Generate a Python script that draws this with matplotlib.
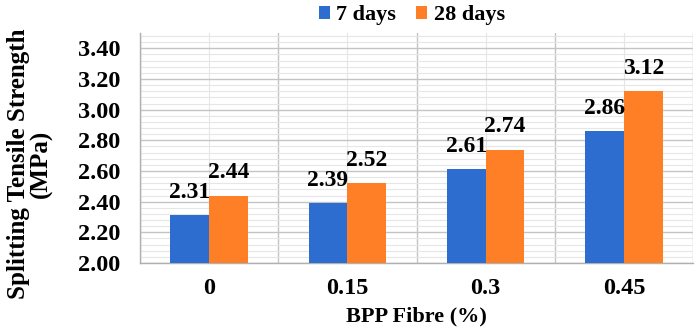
import matplotlib
matplotlib.use("Agg")
import matplotlib.pyplot as plt
import numpy as np
from matplotlib.ticker import MultipleLocator

categories = ["0", "0.15", "0.3", "0.45"]
days7 = [2.31, 2.39, 2.61, 2.86]
days28 = [2.44, 2.52, 2.74, 3.12]
series_names = ["7 days", "28 days"]
yticks = [2.00, 2.20, 2.40, 2.60, 2.80, 3.00, 3.20, 3.40]

blue = "#2E6DD0"
orange = "#FF7F27"

plt.rcParams['font.family'] = ['Liberation Serif', 'DejaVu Serif']
plt.rcParams['font.weight'] = 'bold'

fig = plt.figure(figsize=(6.99, 3.32), dpi=100)
ax = fig.add_axes([140/699, (332-263)/332, (693-140)/699, (263-33)/332])

x = np.arange(len(categories))
w = 0.28
b1 = ax.bar(x - w/2, days7, w, color=blue, label=series_names[0], zorder=3)
b2 = ax.bar(x + w/2, days28, w, color=orange, label=series_names[1], zorder=3)

ax.set_ylim(2.0, 3.5)
ax.set_xlim(-0.5, len(categories) - 0.5)
ax.set_yticks(yticks)
ax.set_yticklabels([f"{v:.2f}" for v in yticks], fontsize=17.5, fontweight='bold')
ax.set_xticks(x)
ax.set_xticklabels(categories, fontsize=17.5, fontweight='bold')
ax.yaxis.set_minor_locator(MultipleLocator(0.04))
ax.set_xticks(np.arange(-0.5, len(categories)), minor=True)
ax.tick_params(axis='both', which='both', length=0)
ax.tick_params(axis='y', pad=14)
ax.tick_params(axis='x', pad=11)

# gridlines
ax.grid(True, axis='y', which='major', color='#c4c4c4', lw=1.0, zorder=0)
ax.grid(True, axis='y', which='minor', color='#e6e6e6', lw=0.8, zorder=0)
ax.grid(True, axis='x', which='minor', color='#c4c4c4', lw=1.0, zorder=0)
ax.grid(True, axis='x', which='major', color='#e6e6e6', lw=0.8, zorder=0)

for s in ['top', 'right']:
    ax.spines[s].set_visible(False)
for s in ['left', 'bottom']:
    ax.spines[s].set_color('#b0b0b0')
    ax.spines[s].set_linewidth(1.0)

for bars, vals in [(b1, days7), (b2, days28)]:
    for rect, v in zip(bars, vals):
        ax.annotate(f"{v:.2f}", (rect.get_x() + rect.get_width()/2, v),
                    xytext=(0, 9), textcoords='offset points',
                    ha='center', va='bottom', fontsize=17, fontweight='bold', zorder=4)

fig.text(30/699, (332-164)/332, "Splitting Tensile Strength\n(MPa)", rotation=90,
         ha='center', va='center', multialignment='center',
         fontsize=18, fontweight='bold', linespacing=1.0)
ax.set_xlabel("BPP Fibre (%)", fontsize=16, fontweight='bold', labelpad=5)

leg = fig.legend(handles=[b1, b2], labels=series_names, loc='upper center',
                 bbox_to_anchor=(412/699, 1.045), ncol=2, frameon=False,
                 prop={'size': 16, 'weight': 'bold'}, handlelength=0.5, handleheight=0.5,
                 handletextpad=0.3, columnspacing=0.9)

fig.savefig("out.png", dpi=100)
